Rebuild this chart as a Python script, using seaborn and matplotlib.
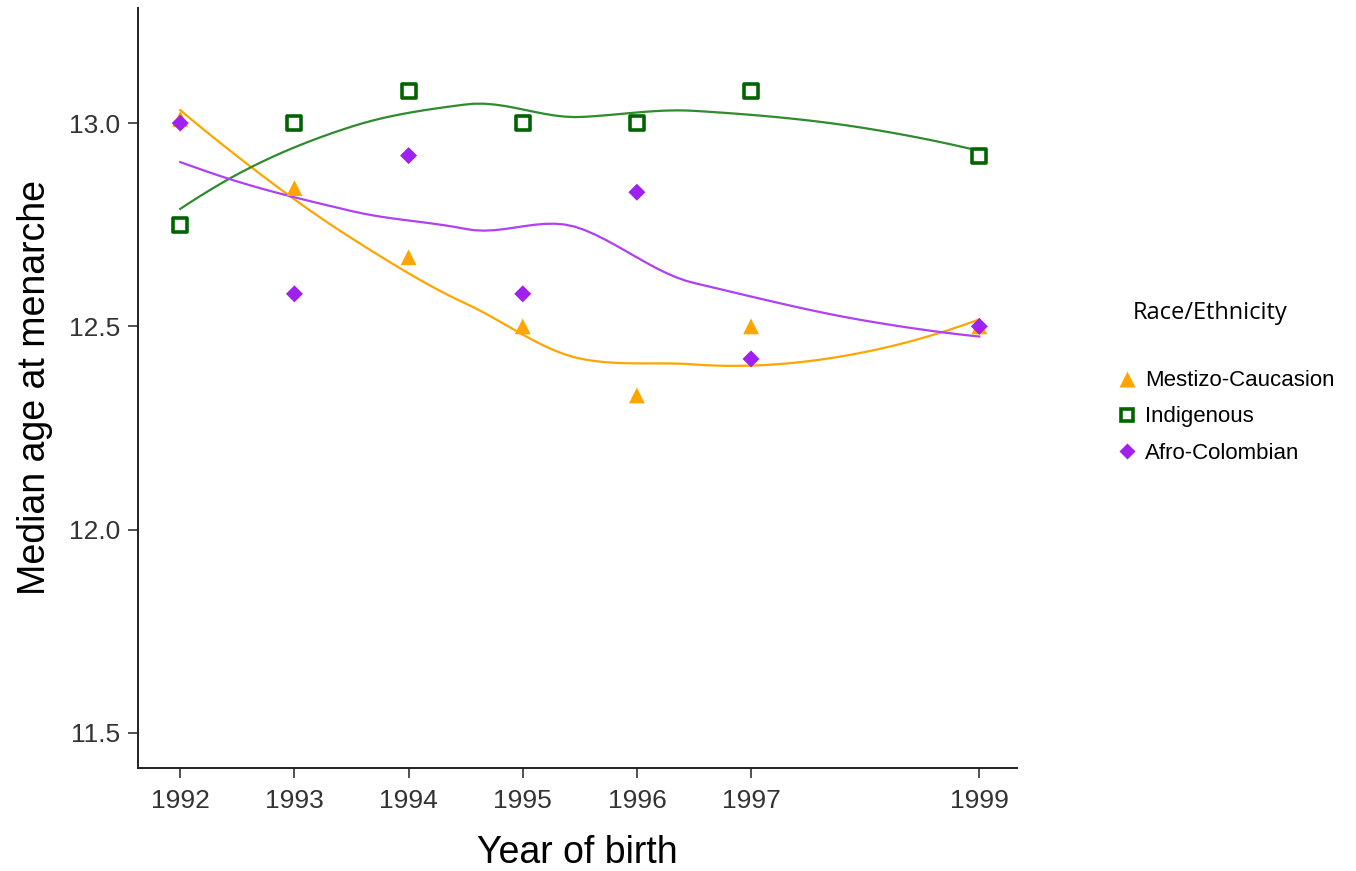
import numpy as np
import pandas as pd
import matplotlib
matplotlib.use("Agg")
import matplotlib.pyplot as plt
import seaborn as sns
from matplotlib.lines import Line2D

# Median age at menarche by year of birth and race/ethnicity
years = [1992, 1993, 1994, 1995, 1996, 1997, 1999]
mestizo = [13.01, 12.84, 12.67, 12.50, 12.33, 12.50, 12.50]
indigenous = [12.75, 13.00, 13.08, 13.00, 13.00, 13.08, 12.92]
afro = [13.00, 12.58, 12.92, 12.58, 12.83, 12.42, 12.50]

groups = ["Mestizo-Caucasion", "Indigenous", "Afro-Colombian"]
palette = {"Mestizo-Caucasion": "#FFA500", "Indigenous": "#006400", "Afro-Colombian": "#A020F0"}
line_colors = {"Mestizo-Caucasion": "#FFA500", "Indigenous": "#2E8B2E", "Afro-Colombian": "#B040F0"}
markers = {"Mestizo-Caucasion": "^", "Indigenous": "s", "Afro-Colombian": "D"}

df = pd.DataFrame({
    "year": years * 3,
    "age": mestizo + indigenous + afro,
    "group": np.repeat(groups, len(years)),
})


def local_fit(x, y, x0, q):
    """Local quadratic fit with tricube weights; returns value and slope at x0."""
    n = len(x)
    d = np.abs(x - x0)
    h = np.sort(d)[q - 1]
    u = np.clip(d / h, 0, 1)
    w = (1 - u ** 3) ** 3
    X = np.column_stack([np.ones(n), x - x0, (x - x0) ** 2])
    W = np.diag(w)
    beta = np.linalg.pinv(X.T @ W @ X) @ (X.T @ W @ y)
    return beta[0], beta[1]


def kd_vertices(x, fc):
    """Cell boundaries from recursive median splits (one-dimensional kd tree)."""
    xs = np.sort(x)
    margin = 0.005 * (xs[-1] - xs[0])
    verts = {xs[0] - margin, xs[-1] + margin}

    def split(lo, hi):
        if hi - lo + 1 <= fc:
            return
        m = (lo + hi) // 2
        verts.add(0.5 * (xs[m] + xs[m + 1]))
        split(lo, m)
        split(m + 1, hi)

    split(0, len(xs) - 1)
    return np.array(sorted(verts))


def loess(x, y, x_eval, span=1.0, cell=0.2):
    """Loess smoother: local fits at kd vertices, cubic Hermite in between."""
    x = np.asarray(x, float)
    y = np.asarray(y, float)
    n = len(x)
    q = min(n, int(np.floor(n * span + 1e-5)))
    fc = int(np.floor(n * span * cell))
    v = kd_vertices(x, fc)
    vals = np.array([local_fit(x, y, vx, q) for vx in v])
    out = []
    for x0 in x_eval:
        i = np.clip(np.searchsorted(v, x0) - 1, 0, len(v) - 2)
        h = v[i + 1] - v[i]
        t = (x0 - v[i]) / h
        h00 = 2 * t ** 3 - 3 * t ** 2 + 1
        h10 = t ** 3 - 2 * t ** 2 + t
        h01 = -2 * t ** 3 + 3 * t ** 2
        h11 = t ** 3 - t ** 2
        out.append(h00 * vals[i, 0] + h10 * h * vals[i, 1]
                   + h01 * vals[i + 1, 0] + h11 * h * vals[i + 1, 1])
    return np.array(out)


grid = np.linspace(min(years), max(years), 80)
smooth = pd.concat([
    pd.DataFrame({"year": grid,
                  "age": loess(years, df.loc[df.group == g, "age"], grid),
                  "group": g})
    for g in groups
])

plt.rcParams["font.family"] = ["Liberation Sans", "DejaVu Sans"]
fig = plt.figure(figsize=(13.56, 8.71), dpi=100)
ax = fig.add_axes([0.1018, 0.1183, 0.6482, 0.8725])

sns.lineplot(data=smooth, x="year", y="age", hue="group", palette=line_colors,
             linewidth=1.6, legend=False, ax=ax)
for g in groups:
    sub = df[df.group == g]
    if g == "Indigenous":
        ax.scatter(sub.year, sub.age, marker="s", s=95, facecolor="white",
                   edgecolor=palette[g], linewidth=2.6, zorder=3)
    else:
        sns.scatterplot(data=sub, x="year", y="age", color=palette[g],
                        marker=markers[g], s=130 if g == "Mestizo-Caucasion" else 75,
                        edgecolor="none", legend=False, ax=ax, zorder=3)

ax.set_xlim(1991.63, 1999.33)
ax.set_ylim(11.414, 13.283)
ax.set_xticks(years)
ax.set_xticklabels([str(y) for y in years])
ax.set_yticks([11.5, 12.0, 12.5, 13.0])
ax.set_yticklabels(["11.5", "12.0", "12.5", "13.0"])
ax.tick_params(labelsize=19, colors="#333333", length=7, width=1.2, pad=6)
ax.tick_params(axis="x", pad=8)
for s in ["top", "right"]:
    ax.spines[s].set_visible(False)
for s in ["left", "bottom"]:
    ax.spines[s].set_linewidth(1.4)
    ax.spines[s].set_color("#222222")
ax.set_xlabel("Year of birth", fontsize=27, labelpad=16)
ax.set_ylabel("Median age at menarche", fontsize=27, labelpad=11)

handles = [
    Line2D([], [], linestyle="none", marker="^", markersize=11,
           markerfacecolor=palette["Mestizo-Caucasion"], markeredgecolor="none"),
    Line2D([], [], linestyle="none", marker="s", markersize=9,
           markerfacecolor="white", markeredgecolor=palette["Indigenous"], markeredgewidth=2.6),
    Line2D([], [], linestyle="none", marker="D", markersize=8,
           markerfacecolor=palette["Afro-Colombian"], markeredgecolor="none"),
]
fig.legend(handles, groups, loc="upper left", bbox_to_anchor=(0.8172, 0.585),
           frameon=False, fontsize=16, handlelength=0.9, handletextpad=0.35,
           labelspacing=0.68, borderaxespad=0)
fig.text(0.8355, 0.641, "Race/Ethnicity", fontsize=17,
         family=["Open Sans", "DejaVu Sans"], va="center", ha="left")

fig.savefig("out.png", dpi=100)
